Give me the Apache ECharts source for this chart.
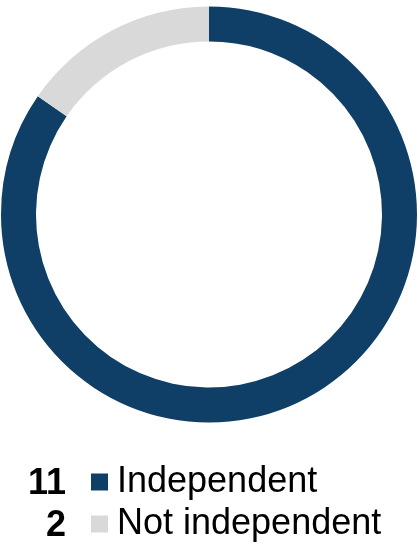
<!DOCTYPE html>
<html><head><meta charset="utf-8">
<script src="https://cdn.jsdelivr.net/npm/echarts@6/dist/echarts.min.js"></script>
<style>html,body{margin:0;padding:0;background:#fff}#c{width:418px;height:543px}</style>
</head><body><div id="c"></div>
<script>
const categories = ['Independent', 'Not independent'];
const values = [11, 2];
const colors = ['#0f3e66', '#d9d9d9'];

const chart = echarts.init(document.getElementById('c'));
const font = '"Liberation Sans", Arial, Helvetica, sans-serif';
chart.setOption({
  animation: false,
  color: colors,
  legend: {
    orient: 'vertical',
    left: 91,
    top: 461,
    height: 100,
    width: 320,
    itemWidth: 17,
    itemHeight: 17,
    itemGap: 0,
    icon: 'rect',
    selectedMode: false,
    padding: 0,
    textStyle: { fontFamily: font, fontSize: 36, color: '#000', lineHeight: 42, padding: [0, 0, 0, 4] },
    data: categories
  },
  graphic: values.map((v, i) => ({
    type: 'text',
    right: 418 - 66,
    top: 461 + i * 42 + 2,
    style: { text: String(v), font: 'bold 36px ' + font, fill: '#000', textAlign: 'right', lineHeight: 42 }
  })),
  series: [{
    type: 'pie',
    center: [209, 214.5],
    radius: [173, 208],
    startAngle: 90,
    clockwise: true,
    label: { show: false },
    labelLine: { show: false },
    emphasis: { disabled: true },
    itemStyle: { borderWidth: 0 },
    data: categories.map((c, i) => ({ name: c, value: values[i] }))
  }]
});
</script></body></html>
